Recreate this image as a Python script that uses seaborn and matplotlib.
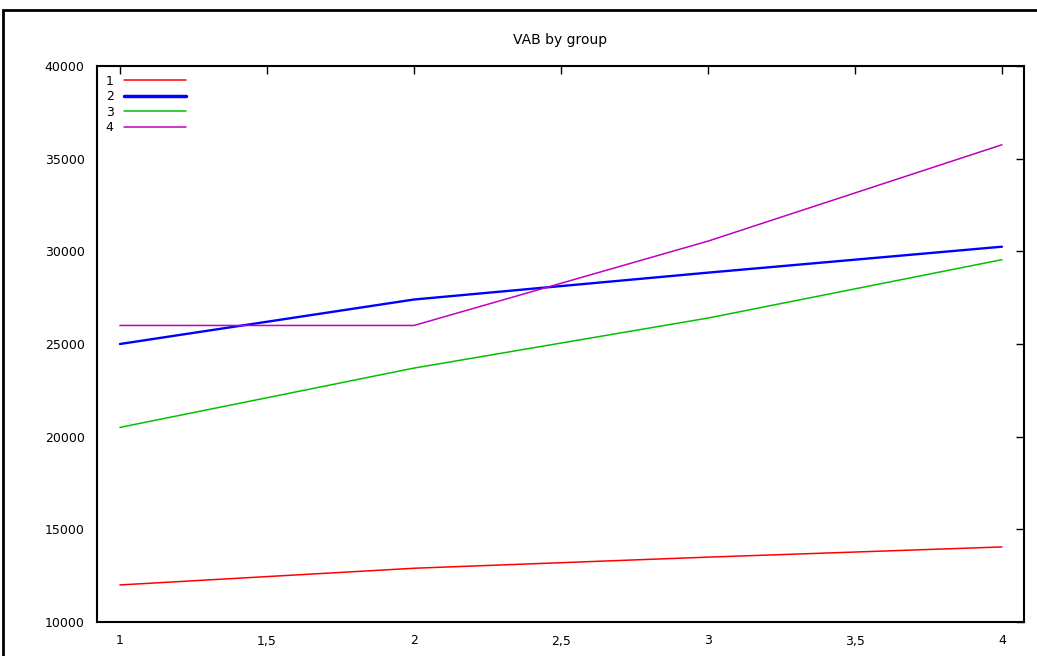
import pandas as pd
import matplotlib.pyplot as plt
from matplotlib.patches import Rectangle
from matplotlib.ticker import FuncFormatter
import seaborn as sns

# values
x = [1, 2, 3, 4]
group1 = [12000, 12900, 13500, 14050]
group2 = [25000, 27400, 28850, 30250]
group3 = [20500, 23700, 26400, 29550]
group4 = [26000, 26000, 30550, 35750]
groups = ['1', '2', '3', '4']
colors = {'1': '#ff0000', '2': '#0000ff', '3': '#00c000', '4': '#c000c0'}

frames = []
for g, vals in zip(groups, [group1, group2, group3, group4]):
    frames.append(pd.DataFrame({'x': x, 'VAB': vals, 'group': g}))
df = pd.concat(frames)

sns.set_style('white')
plt.rcParams['font.family'] = ['DejaVu Sans']
plt.rcParams['text.color'] = 'black'

fig = plt.figure(figsize=(10.37, 6.56), dpi=100)
ax = fig.add_axes([97 / 1037, 1 - 622 / 656, 927 / 1037, 556 / 656])

ax = sns.lineplot(data=df, x='x', y='VAB', hue='group', palette=colors,
                  ax=ax, linewidth=1.1)
for line in ax.lines:
    if line.get_color() == '#0000ff':
        line.set_linewidth(1.7)

ax.set_xlim(0.922, 4.075)
ax.set_ylim(10000, 40000)
ax.set_xticks([1, 1.5, 2, 2.5, 3, 3.5, 4])
ax.set_yticks(range(10000, 40001, 5000))
ax.xaxis.set_major_formatter(FuncFormatter(lambda v, p: ('%g' % v).replace('.', ',')))
ax.tick_params(direction='in', top=True, right=True, length=6, width=1,
               labelsize=9, pad=9, colors='black')
ax.set_xlabel('')
ax.set_ylabel('')
ax.set_title('VAB by group', fontsize=10, pad=16, color='black')
for s in ax.spines.values():
    s.set_color('black')
    s.set_linewidth(1.5)

handles, labels = ax.get_legend_handles_labels()
leg = ax.legend(handles, labels, loc='upper left', frameon=False,
                markerfirst=False, fontsize=9, handlelength=5,
                labelspacing=0.2, borderaxespad=0.3, labelcolor='black')
for h in leg.get_lines():
    h.set_linewidth(2.5 if h.get_color() == '#0000ff' else 1.1)

fig.patches.append(Rectangle((3 / 1037, -0.1), 1.2, 1 - 10 / 656 + 0.1,
                             transform=fig.transFigure, fill=False,
                             edgecolor='black', linewidth=2))

fig.savefig('out.png', dpi=100)
